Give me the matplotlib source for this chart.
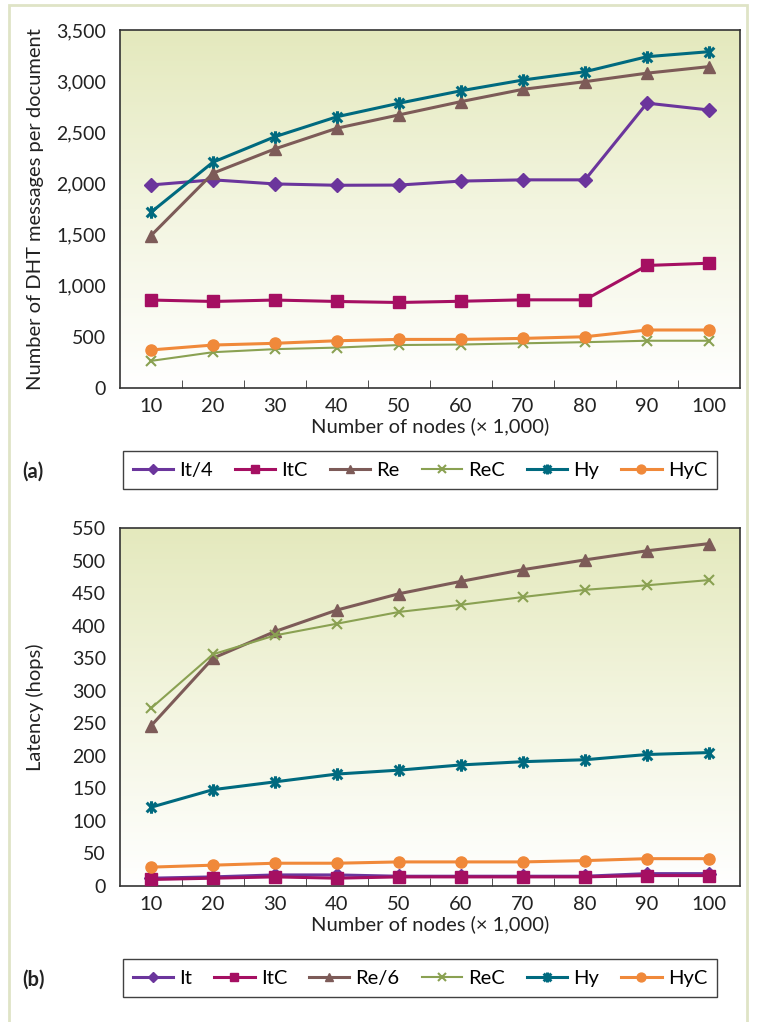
import matplotlib
matplotlib.use("Agg")
import matplotlib.pyplot as plt
import numpy as np
from matplotlib.path import Path
from matplotlib.patches import Rectangle
from matplotlib.colors import LinearSegmentedColormap
from matplotlib.ticker import FuncFormatter, FixedLocator

plt.rcParams['font.family'] = ['Lato', 'DejaVu Sans']

# ---- data ----
nodes = ['10', '20', '30', '40', '50', '60', '70', '80', '90', '100']

# (a) number of DHT messages per document
a_it4 = [1985, 2035, 1995, 1982, 1984, 2023, 2035, 2035, 2785, 2718]
a_itc = [860, 846, 860, 846, 836, 848, 862, 862, 1198, 1220]
a_re = [1490, 2100, 2338, 2540, 2670, 2800, 2920, 2995, 3078, 3142]
a_rec = [265, 350, 380, 395, 420, 425, 437, 448, 462, 462]
a_hy = [1718, 2208, 2457, 2652, 2784, 2906, 3011, 3092, 3239, 3288]
a_hyc = [372, 420, 437, 462, 475, 475, 485, 501, 567, 567]

# (b) latency (hops)
b_it = [12, 14, 17, 17, 15, 15, 15, 15, 19, 19]
b_itc = [10, 12, 14, 12, 14, 14, 14, 14, 16, 16]
b_re6 = [246, 350, 391, 424, 449, 468, 486, 501, 515, 526]
b_rec = [273, 356, 385, 403, 421, 432, 444, 455, 462, 470]
b_hy = [121, 148, 160, 172, 178, 186, 191, 194, 202, 205]
b_hyc = [29, 32, 35, 35, 37, 37, 37, 39, 42, 42]

labels_a = ['It/4', 'ItC', 'Re', 'ReC', 'Hy', 'HyC']
labels_b = ['It', 'ItC', 'Re/6', 'ReC', 'Hy', 'HyC']

colors = ['#6b359c', '#a50f62', '#7d5b58', '#8aa152', '#006a7f', '#f0893a']

# asterisk marker (x plus vertical bar)
star = Path([(-1, -1), (1, 1), (-1, 1), (1, -1), (0, -1.3), (0, 1.3)],
            [Path.MOVETO, Path.LINETO, Path.MOVETO, Path.LINETO, Path.MOVETO, Path.LINETO])

styles = [
    dict(marker='D', ms=7, lw=2.2),
    dict(marker='s', ms=8, lw=2.2),
    dict(marker='^', ms=8, lw=2.2),
    dict(marker='x', ms=7, lw=1.5, mew=1.5),
    dict(marker=star, ms=9, lw=2.2, mew=2.2),
    dict(marker='o', ms=8, lw=2.2),
]

grad_cmap = LinearSegmentedColormap.from_list('bg', ['#ffffff', '#f3f5e0', '#e4e9bd'])

fig = plt.figure(figsize=(7.58, 10.22), dpi=100)

# outer frame
fig.patches.append(Rectangle((9 / 758, -0.05), 738 / 758, 1 - 5 / 1022 + 0.05,
                             transform=fig.transFigure, fill=False,
                             edgecolor='#dfe4c6', linewidth=2, zorder=0))


def panel(rect, series, labels, ymax, ystep, ylabel, letter, leg_box, letter_y):
    ax = fig.add_axes(rect)
    x = np.arange(len(nodes))
    grad = np.linspace(0, 1, 256).reshape(-1, 1)
    ax.imshow(grad, extent=[0, 1, 0, 1], transform=ax.transAxes, origin='lower',
              cmap=grad_cmap, aspect='auto', zorder=0)
    handles = []
    for vals, lab, col, st in zip(series, labels, colors, styles):
        st = dict(st)
        mew = st.pop('mew', 1.0)
        h, = ax.plot(x, vals, color=col, mfc=col, mec=col, mew=mew,
                     label=lab, zorder=3, clip_on=False, **st)
        handles.append(h)
    ax.set_xlim(-0.5, len(nodes) - 0.5)
    ax.set_ylim(0, ymax)
    ax.set_xticks(x)
    ax.set_xticklabels(nodes)
    ax.xaxis.set_minor_locator(FixedLocator(np.arange(0.5, len(nodes) - 1, 1)))
    ax.tick_params(axis='x', which='major', length=0, pad=7, labelsize=14.5, colors='#222222')
    ax.tick_params(axis='x', which='minor', length=6, direction='in', color='#333333')
    ax.set_yticks(np.arange(0, ymax + 1, ystep))
    ax.yaxis.set_major_formatter(FuncFormatter(lambda v, p: f'{int(v):,}'))
    ax.tick_params(axis='y', length=0, pad=10, labelsize=14, colors='#222222')
    for s in ax.spines.values():
        s.set_color('#333333')
        s.set_linewidth(1.2)
    ax.set_xlabel('Number of nodes (\u00d7 1,000)', fontsize=14.5, color='#222222', labelpad=2)
    ax.set_ylabel(ylabel, fontsize=14.5, color='#222222')
    ax.yaxis.set_label_coords(-0.122, 0.5)
    fig.legend(handles=handles, loc='center', bbox_to_anchor=leg_box, ncol=6,
               frameon=True, fancybox=False, edgecolor='#111111', fontsize=14.5,
               handlelength=2.0, handletextpad=0.3, columnspacing=1.1,
               borderpad=0.5, markerscale=0.8)
    fig.text(22 / 758, letter_y, letter, fontsize=14.5, fontweight='bold', color='#222222',
             va='center')
    return ax


panel([120 / 758, 1 - 388 / 1022, 620 / 758, 358 / 1022],
      [a_it4, a_itc, a_re, a_rec, a_hy, a_hyc], labels_a, 3500, 500,
      'Number of DHT messages per document', '(a)',
      (420 / 758, 1 - 470 / 1022), 1 - 472 / 1022)
panel([120 / 758, 1 - 886 / 1022, 620 / 758, 358 / 1022],
      [b_it, b_itc, b_re6, b_rec, b_hy, b_hyc], labels_b, 550, 50,
      'Latency (hops)', '(b)',
      (420 / 758, 1 - 978 / 1022), 1 - 980 / 1022)

fig.savefig('out.png', dpi=100)
